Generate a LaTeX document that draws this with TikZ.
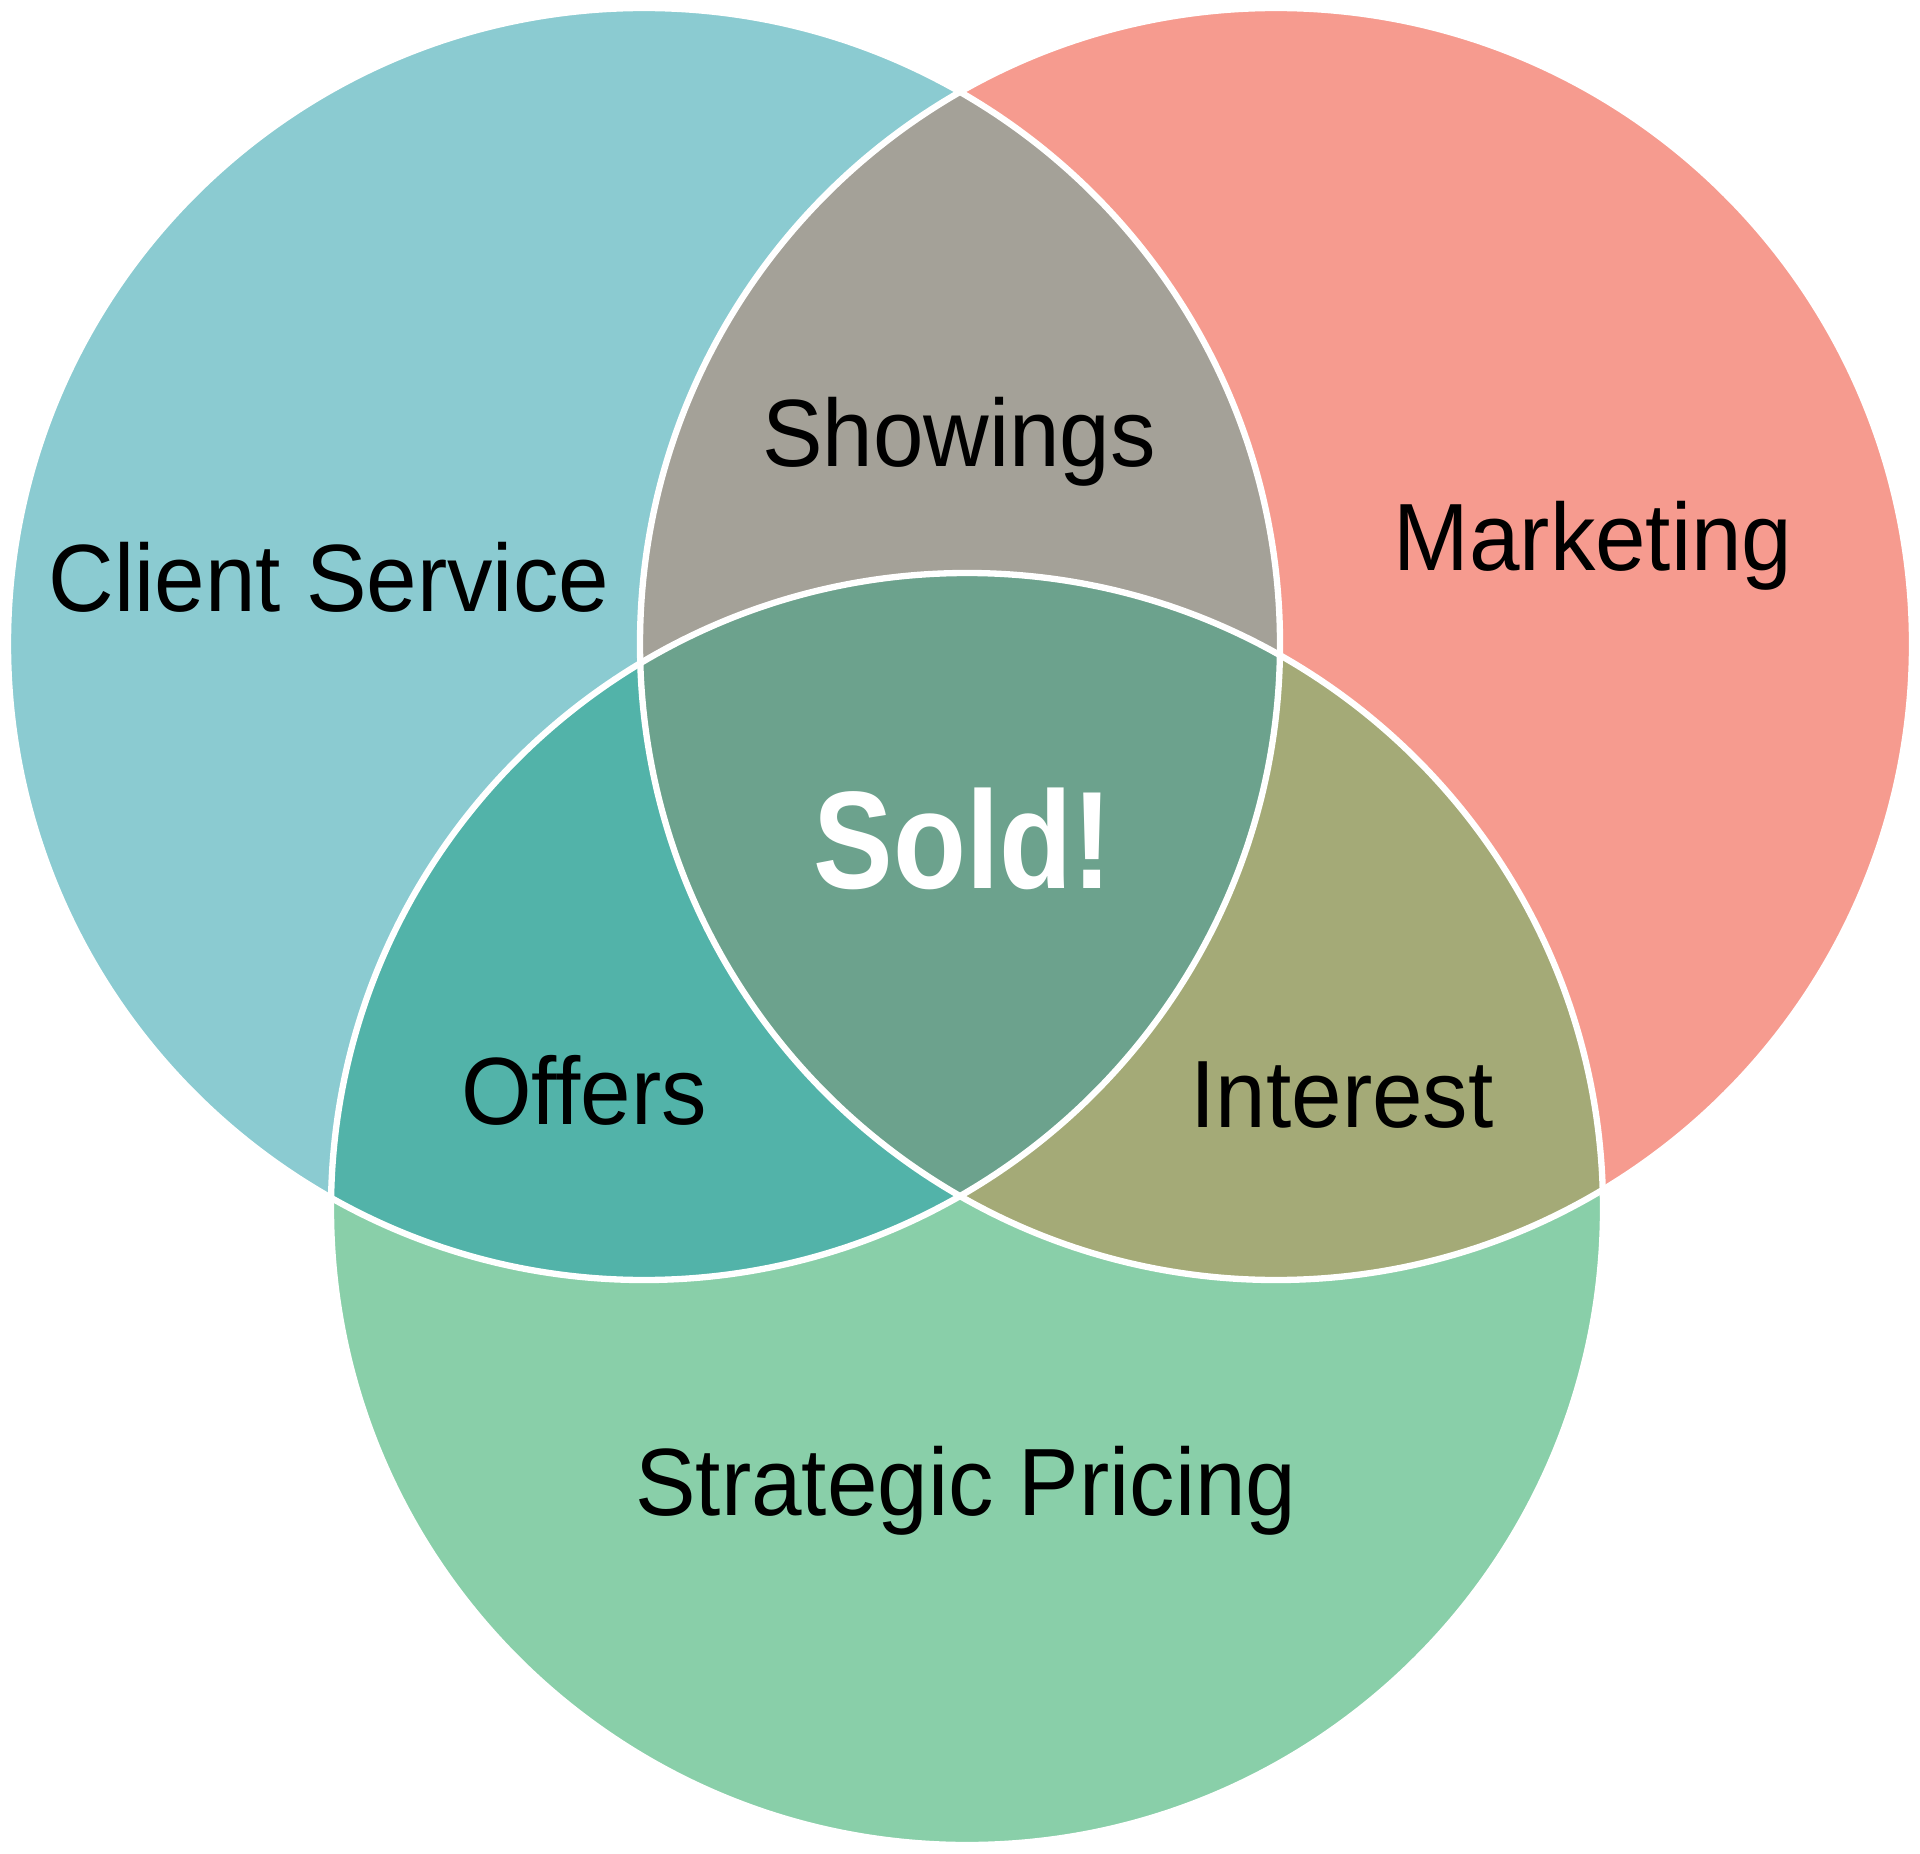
\documentclass[tikz,border=0pt]{standalone}
\usepackage{fontspec}
\setmainfont[FakeStretch=0.95]{Liberation Sans}
\newfontfamily\soldfont[FakeStretch=0.86]{Liberation Sans Bold}
\usetikzlibrary{positioning}
\definecolor{clientblue}{HTML}{8BCBD1}
\definecolor{marketred}{HTML}{F69B8F}
\definecolor{pricegreen}{HTML}{89CFA9}
\definecolor{showgray}{HTML}{A4A198}
\definecolor{offerteal}{HTML}{52B3A9}
\definecolor{interestolive}{HTML}{A4AA77}
\definecolor{soldgreen}{HTML}{6CA28D}
\tikzset{
  setlabel/.style={anchor=base, text=black, font=\fontsize{27.2}{30}\selectfont},
  rim/.style={draw=white, line width=1.8pt}
}

\begin{document}
\begin{tikzpicture}
\useasboundingbox (0,0) rectangle (19.2,-18.54);
\coordinate (cs) at (6.44,-6.44);
\coordinate (mk) at (12.76,-6.44);
\coordinate (sp) at (9.67,-12.09);
% the three sets
\fill[clientblue] (cs) circle (6.36);
\fill[marketred] (mk) circle (6.36);
\fill[pricegreen] (sp) circle (6.36);
% overlaps
\begin{scope}
  \clip (cs) circle (6.36);
  \fill[showgray] (mk) circle (6.36);
  \fill[offerteal] (sp) circle (6.36);
\end{scope}
\begin{scope}
  \clip (mk) circle (6.36);
  \fill[interestolive] (sp) circle (6.36);
  \clip (cs) circle (6.36);
  \fill[soldgreen] (sp) circle (6.36);
\end{scope}
\foreach \c in {cs,mk,sp}
  \draw[rim] (\c) circle (6.36);
% labels
\node[setlabel] (client) at (3.29,-6.12) {Client Service};
\node[setlabel] (showings) at (9.59,-4.67) {Showings};
\node[setlabel] (marketing) at (15.93,-5.71) {Marketing};
\node[setlabel, text=white, font=\soldfont\fontsize{39.5}{42}\selectfont] (sold) at (9.63,-8.88) {Sold!};
\node[setlabel] (offers) at (5.84,-11.24) {Offers};
\node[setlabel] (interest) at (13.42,-11.27) {Interest};
\node[setlabel] (pricing) at (9.66,-15.15) {Strategic Pricing};
\end{tikzpicture}
\end{document}
